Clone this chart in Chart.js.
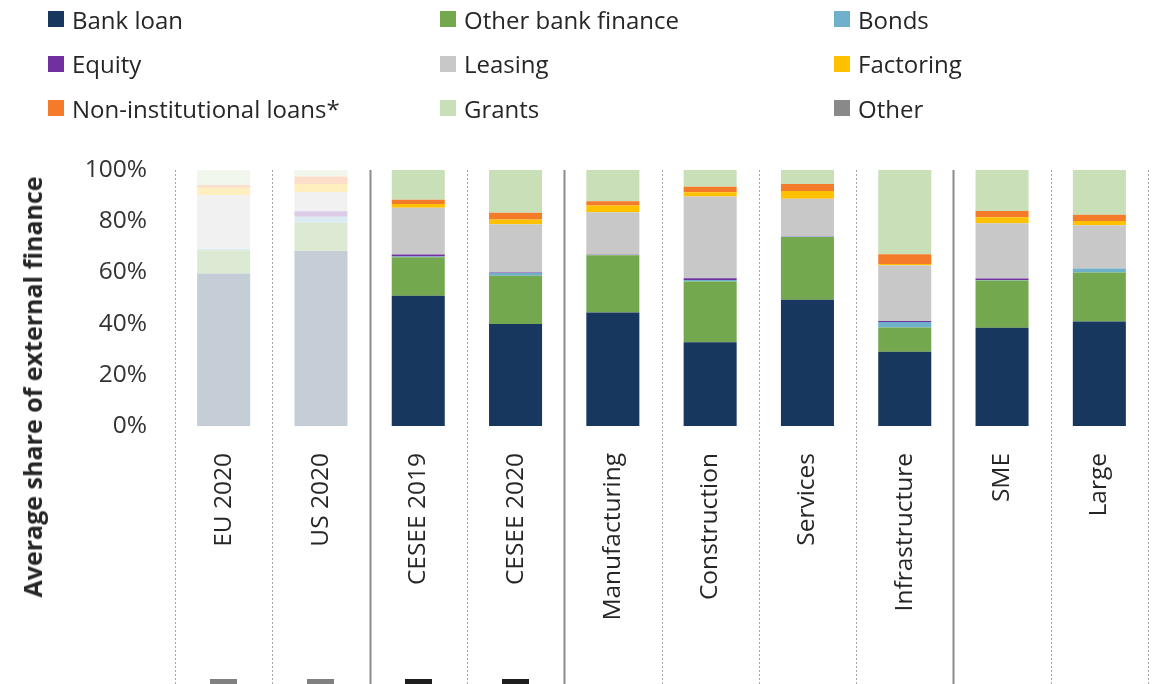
<!DOCTYPE html>
<html>
<head>
<meta charset="utf-8">
<script src="https://cdn.jsdelivr.net/npm/chart.js@4/dist/chart.umd.min.js"></script>
<style>
  html, body { margin: 0; padding: 0; background: #fff; }
  #wrap { position: relative; width: 1163px; height: 684px; overflow: hidden; font-family: "Open Sans", "Noto Sans", sans-serif; color: #262626; }
  #c { position: absolute; left: 0; top: 0; }
  .lg { position: absolute; display: flex; align-items: center; font-size: 24px; white-space: nowrap; height: 30px; }
  .lg i { display: inline-block; width: 16px; height: 16px; margin-right: 8px; }
  #ytitle { position: absolute; left: 32px; top: 387px; transform: translate(-50%, -50%) rotate(-90deg); font-weight: 700; font-size: 25px; white-space: nowrap; color: #262626; }
</style>
</head>
<body>
<div id="wrap">
  <canvas id="c" width="1163" height="684"></canvas>
  <div id="ytitle">Average share of external finance</div>
</div>
<script>
const categories = ["EU 2020", "US 2020", "CESEE 2019", "CESEE 2020", "Manufacturing", "Construction", "Services", "Infrastructure", "SME", "Large"];
const seriesNames = ["Bank loan", "Other bank finance", "Bonds", "Equity", "Leasing", "Factoring", "Non-institutional loans*", "Grants", "Other"];
const bankLoan     = [59.6, 68.4, 50.9, 39.8, 44.3, 32.7, 49.3, 29.0, 38.4, 40.8];
const otherBank    = [ 9.1, 11.0, 15.0, 18.9, 22.4, 23.7, 24.5,  9.5, 18.4, 19.2];
const bonds        = [ 0.5,  2.3,  0.3,  1.1,  0.1,  0.6,  0.1,  2.1,  0.2,  1.5];
const equity       = [ 0.0,  2.2,  0.8,  0.2,  0.1,  0.7,  0.1,  0.4,  0.6,  0.0];
const leasing      = [21.0,  7.5, 18.3, 18.8, 16.6, 31.9, 14.8, 21.8, 21.6, 16.9];
const factoring    = [ 2.9,  3.1,  1.4,  1.9,  2.6,  1.7,  3.0,  0.5,  2.3,  1.7];
const nonInst      = [ 1.0,  3.0,  1.7,  2.6,  1.7,  2.2,  2.7,  3.8,  2.5,  2.4];
const grants       = [ 5.9,  2.5, 11.6, 16.7, 12.2,  6.5,  5.5, 32.9, 16.0, 17.5];
const other        = [ 0.0,  0.0,  0.0,  0.0,  0.0,  0.0,  0.0,  0.0,  0.0,  0.0];
const yTicks = [0, 20, 40, 60, 80, 100];

const seriesData = [bankLoan, otherBank, bonds, equity, leasing, factoring, nonInst, grants, other];
const colors = ["#17375E", "#74A84E", "#6FB0CB", "#7030A0", "#C8C8C8", "#FFC000", "#F47B2A", "#C9DFB8", "#898989"];
const fadedIdx = [0, 1];
// separator style at each category boundary (0 = left edge ... n = right edge)
const sepSolid = [false, false, true, false, true, false, false, false, true, false, false];
const markers = [{i:0, c:"#808080"}, {i:1, c:"#808080"}, {i:2, c:"#1E1E1E"}, {i:3, c:"#1E1E1E"}];

function fade(hex, a) {
  const r = parseInt(hex.slice(1,3),16), g = parseInt(hex.slice(3,5),16), b = parseInt(hex.slice(5,7),16);
  const m = v => Math.round(255*(1-a) + v*a);
  return `rgb(${m(r)},${m(g)},${m(b)})`;
}

// HTML legend, 3 columns
const wrap = document.getElementById('wrap');
const colX = [48, 440, 834], rowY = [19, 63.5, 108];
seriesNames.forEach((n, k) => {
  const d = document.createElement('div');
  d.className = 'lg';
  d.style.left = colX[k % 3] + 'px';
  d.style.top = (rowY[Math.floor(k / 3)] - 15) + 'px';
  d.innerHTML = `<i style="background:${colors[k]}"></i><span>${n}</span>`;
  wrap.appendChild(d);
});

const datasets = seriesNames.map((n, k) => ({
  label: n,
  data: seriesData[k],
  backgroundColor: categories.map((c, i) => fadedIdx.includes(i) ? fade(colors[k], 0.25) : colors[k]),
  borderWidth: 0,
  barPercentage: 0.545,
  categoryPercentage: 1.0
}));

const sepPlugin = {
  id: 'seps',
  afterDraw(chart) {
    const ctx = chart.ctx, xs = chart.scales.x, area = chart.chartArea;
    const n = categories.length;
    const bottom = chart.height;
    ctx.save();
    for (let b = 0; b <= n; b++) {
      let x;
      if (b === 0) x = area.left;
      else if (b === n) x = area.right;
      else x = (xs.getPixelForValue(b - 1) + xs.getPixelForValue(b)) / 2;
      x = Math.round(x) + 0.5;
      ctx.beginPath();
      if (sepSolid[b]) {
        ctx.strokeStyle = "#8C8C8C"; ctx.lineWidth = 2; ctx.setLineDash([]);
      } else {
        ctx.strokeStyle = "#A6A6A6"; ctx.lineWidth = 1; ctx.setLineDash([2, 2]);
      }
      ctx.moveTo(x, area.top);
      ctx.lineTo(x, bottom);
      ctx.stroke();
    }
    ctx.setLineDash([]);
    markers.forEach(m => {
      const cx = xs.getPixelForValue(m.i);
      ctx.fillStyle = m.c;
      ctx.fillRect(Math.round(cx - 13.5), bottom - 5, 27, 5);
    });
    ctx.restore();
  }
};

new Chart(document.getElementById('c'), {
  type: 'bar',
  data: { labels: categories, datasets },
  options: {
    responsive: false,
    animation: false,
    layout: { padding: { top: 170, right: 15, left: 0, bottom: 0 } },
    plugins: { legend: { display: false }, tooltip: { enabled: false } },
    scales: {
      x: {
        stacked: true,
        grid: { display: false, drawTicks: false },
        border: { display: false },
        ticks: {
          minRotation: 90, maxRotation: 90, padding: 27, autoSkip: false,
          color: "#262626",
          font: { family: "'Open Sans', 'Noto Sans', sans-serif", size: 24.5 }
        },
        afterFit(s) { s.height = 258; }
      },
      y: {
        stacked: true,
        min: 0, max: 100,
        afterBuildTicks(s) { s.ticks = yTicks.map(v => ({ value: v })); },
        grid: { display: false, drawTicks: false },
        border: { display: false },
        ticks: {
          padding: 28,
          color: "#333333",
          font: { family: "'Open Sans', 'Noto Sans', sans-serif", size: 24.5 },
          callback: v => v + '%'
        },
        afterFit(s) { s.width = 175; }
      }
    }
  },
  plugins: [sepPlugin]
});
</script>
</body>
</html>
